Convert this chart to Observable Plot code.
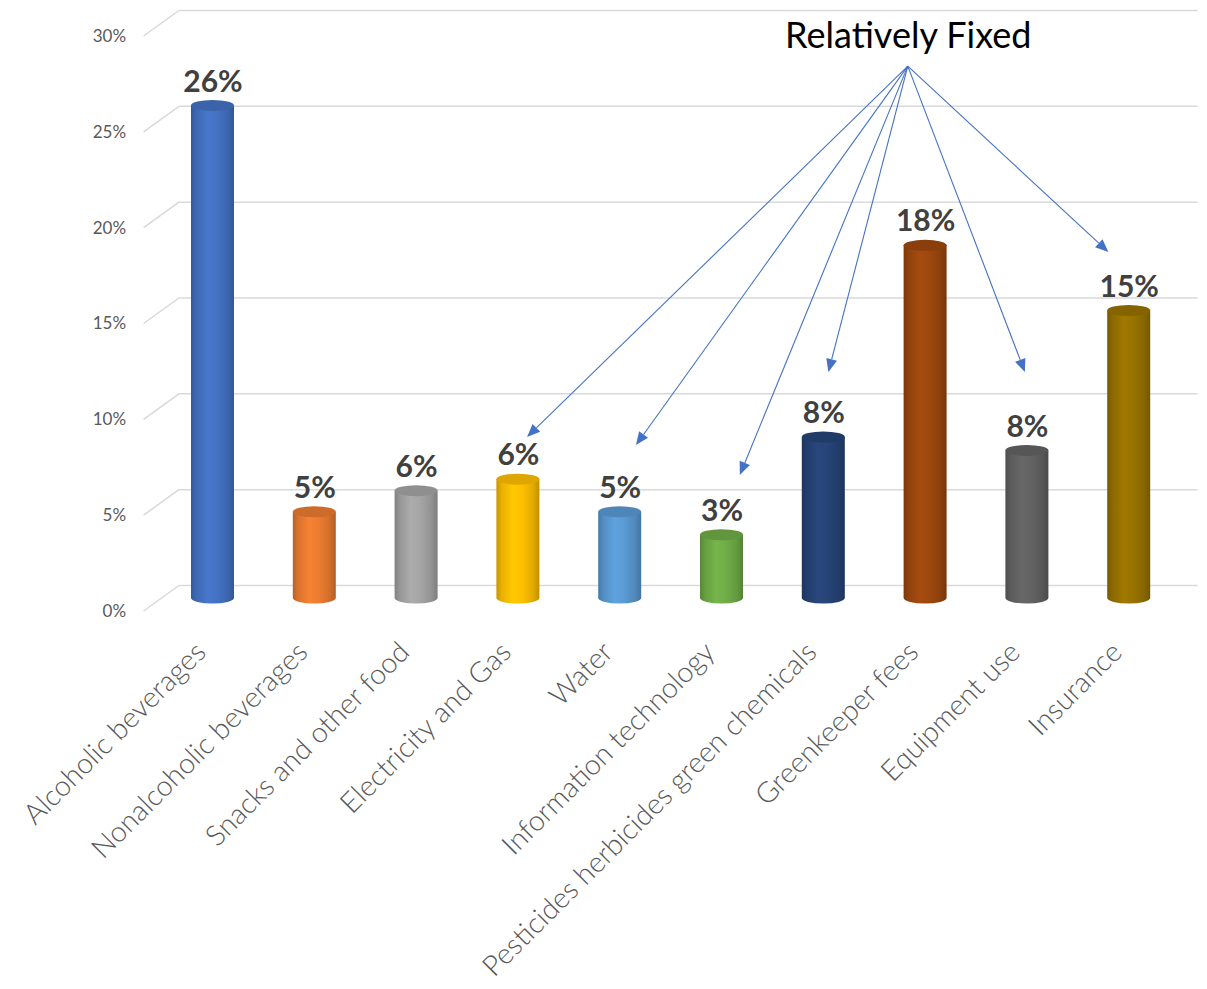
<!DOCTYPE html>
<html><head><meta charset="utf-8">
<script src="https://cdn.jsdelivr.net/npm/d3@7"></script>
<script src="https://cdn.jsdelivr.net/npm/@observablehq/plot@0.6"></script>
<style>body{margin:0;background:#fff} svg{display:block}</style>
</head><body><div id="chart"></div>
<script>
// ---- data ----
const categories = ["Alcoholic beverages","Nonalcoholic beverages","Snacks and other food","Electricity and Gas","Water","Information technology","Pesticides herbicides green chemicals","Greenkeeper fees","Equipment use","Insurance"];
const values = [25.7, 4.5, 5.6, 6.2, 4.5, 3.3, 8.4, 18.4, 7.7, 15.0];
const colors = ["#4472C4","#ED7D31","#A5A5A5","#FFC000","#5B9BD5","#70AD47","#264478","#9E480E","#636363","#997300"];
const yTicks = [0, 5, 10, 15, 20, 25, 30];
const annotationText = "Relatively Fixed";
const annotationX = 6.83, annotationY = 29.3;      // text position (category index, %)
const arrowSourceX = 6.83, arrowSourceY = 27.75;    // arrows fan out from here
const arrowTargetX = [3.09, 4.16, 5.18, 6.05, 7.98, 8.80];
const arrowTargetY = [8.4, 7.98, 6.42, 11.79, 11.79, 18.05];

// ---- styling ----
const DX = 18, DY = 13;          // 3D depth offset (bar plane -> back wall)
const GRID = "#d9d9d9";
const BAR_R = 21.5, CAP_R = 5.5;
const ARROW = "#4472C4";

const data = categories.map((c, i) => ({category: c, index: i, value: values[i], color: colors[i]}));

function diagonals(index, scales) {
  const g = d3.create("svg:g");
  const x0 = scales.x(-0.5);
  for (const t of yTicks) {
    const y0 = scales.y(t);
    g.append("line").attr("x1", x0 - DX).attr("y1", y0 + DY).attr("x2", x0 + DX).attr("y2", y0 - DY)
      .attr("stroke", GRID).attr("stroke-width", 1.5);
  }
  return g.node();
}

function cylinders(index, scales) {
  const g = d3.create("svg:g");
  const defs = g.append("defs");
  data.forEach((d, i) => {
    const c = d3.color(d.color);
    const grad = defs.append("linearGradient").attr("id", "cyl" + i).attr("x1", "0%").attr("x2", "100%").attr("y1", "0%").attr("y2", "0%");
    [[0, c.darker(0.7)], [0.12, c.darker(0.25)], [0.38, c.brighter(0.12)], [0.6, c], [0.86, c.darker(0.35)], [1, c.darker(0.8)]]
      .forEach(([o, col]) => grad.append("stop").attr("offset", o).attr("stop-color", col.formatHex()));
    const cx = scales.x(d.index), yb = scales.y(0), yt = scales.y(d.value);
    g.append("path")
      .attr("d", `M${cx - BAR_R},${yt}L${cx - BAR_R},${yb}A${BAR_R},${CAP_R} 0 0 0 ${cx + BAR_R},${yb}L${cx + BAR_R},${yt}Z`)
      .attr("fill", `url(#cyl${i})`);
    g.append("ellipse").attr("cx", cx).attr("cy", yt).attr("rx", BAR_R).attr("ry", CAP_R)
      .attr("fill", c.darker(0.4).formatHex());
  });
  return g.node();
}

function arrows(index, scales) {
  const g = d3.create("svg:g");
  const sx = scales.x(arrowSourceX), sy = scales.y(arrowSourceY);
  arrowTargetX.forEach((tx, i) => {
    const px = scales.x(tx), py = scales.y(arrowTargetY[i]);
    const vx = px - sx, vy = py - sy, len = Math.hypot(vx, vy);
    const ux = vx / len, uy = vy / len;
    const L = 13, W = 5.5;
    const bx = px - ux * L, by = py - uy * L;
    g.append("line").attr("x1", sx).attr("y1", sy).attr("x2", bx).attr("y2", by)
      .attr("stroke", ARROW).attr("stroke-width", 1.1);
    g.append("path").attr("d", `M${px},${py}L${bx - uy * W},${by + ux * W}L${bx + uy * W},${by - ux * W}Z`).attr("fill", ARROW);
  });
  return g.node();
}

const chart = Plot.plot({
  width: 1207,
  height: 989,
  marginTop: 23,
  marginBottom: 391,
  marginLeft: 161.6,
  marginRight: 27.4,
  style: {background: "#fff", fontFamily: "Lato, 'Open Sans', sans-serif"},
  x: {type: "linear", domain: [-0.5, 9.5], axis: null},
  y: {domain: [0, 30], axis: null},
  marks: [
    Plot.ruleY(yTicks, {y: d => d, x1: -0.5, x2: 9.5, dx: DX, dy: -DY, stroke: GRID, strokeWidth: 1.5}),
    diagonals,
    Plot.text(yTicks, {x: -0.5, y: d => d, text: d => d + "%", dx: -DX - 18, dy: DY, textAnchor: "end", lineAnchor: "middle", fontSize: 17, fill: "#595959"}),
    cylinders,
    Plot.text(data, {x: "index", y: "value", text: d => Math.round(d.value) + "%", dy: -24, lineAnchor: "middle", fontSize: 30, fontWeight: "bold", fill: "#404040"}),
    Plot.text(data, {x: "index", y: 0, text: "category", rotate: -45, textAnchor: "end", lineAnchor: "middle", dx: -12, dy: 49, fontSize: 28.5, fontWeight: 300, fill: "#595959"}),
    arrows,
    Plot.text([annotationText], {x: annotationX, y: annotationY, text: d => d, lineAnchor: "middle", fontSize: 36, fill: "#000"})
  ]
});
document.getElementById("chart").appendChild(chart);
</script>
</body></html>
